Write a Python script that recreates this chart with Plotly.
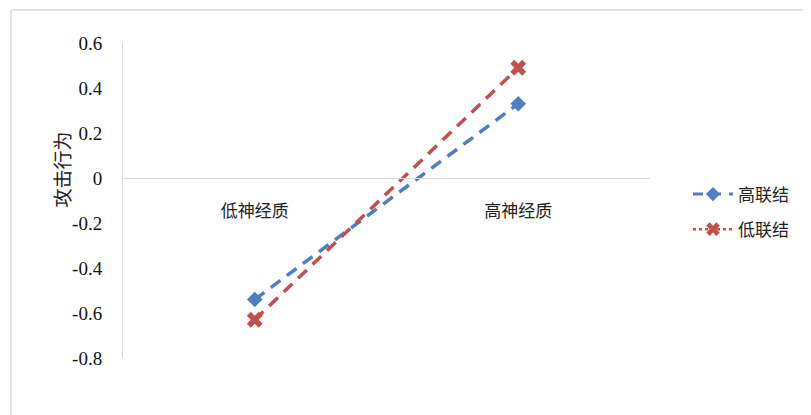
import plotly.graph_objects as go

categories = ["低神经质", "高神经质"]
high_link = [-0.54, 0.33]
low_link = [-0.63, 0.49]
series_names = ["高联结", "低联结"]
y_ticks = [-0.8, -0.6, -0.4, -0.2, 0, 0.2, 0.4, 0.6]
y_tick_labels = ["-0.8", "-0.6", "-0.4", "-0.2", "0", "0.2", "0.4", "0.6"]

blue = "#4F7FC0"
red = "#C0504D"
cjk = "Noto Sans CJK SC"
serif = "Liberation Serif"

# page offset (body margin) of 8px
OX, OY = 8, 8
L, T, R, B = 123 - OX, 43 - OY, 650 - OX, 358 - OY
W, H = 811, 415
PW, PH = R - L, B - T

def px(x):
    return (x - OX - L) / PW

def py(y):
    return 1 - (y - OY - T) / PH

fig = go.Figure()
fig.add_trace(go.Scatter(
    x=categories, y=high_link, mode="lines+markers", name=series_names[0],
    line=dict(color=blue, width=3.5, dash="12px,8px"),
    marker=dict(symbol="diamond", size=12, color=blue),
    showlegend=False))
fig.add_trace(go.Scatter(
    x=categories, y=low_link, mode="lines+markers", name=series_names[1],
    line=dict(color=red, width=3.5, dash="12px,8px"),
    marker=dict(symbol="x", size=14, color=red),
    showlegend=False))
# legend entries
fig.add_trace(go.Scatter(
    x=[None], y=[None], mode="lines+markers", name=series_names[0],
    line=dict(color=blue, width=3, dash="10px,8px"),
    marker=dict(symbol="diamond", size=11, color=blue),
    legendgroup="a"))
fig.add_trace(go.Scatter(
    x=[None], y=[None], mode="lines+markers", name=series_names[1],
    line=dict(color=red, width=2.5, dash="dot"),
    marker=dict(symbol="x", size=12, color=red),
    legendgroup="b"))

fig.update_layout(
    width=W, height=H,
    margin=dict(l=L, r=W - R, t=T, b=H - B),
    paper_bgcolor="white", plot_bgcolor="white",
    showlegend=True,
    legend=dict(x=px(688), y=py(212), xanchor="left", yanchor="middle",
                font=dict(family=cjk, size=17, color="#222"),
                tracegroupgap=10, traceorder="grouped", itemwidth=40),
    xaxis=dict(type="category", range=[-0.5, 1.5], showgrid=False,
               showline=True, linecolor="#d9d9d9", linewidth=1,
               anchor="free", position=0.8 / 1.4, ticks="",
               ticklabelstandoff=18,
               tickfont=dict(family=cjk, size=17, color="#222"),
               zeroline=False),
    yaxis=dict(range=[-0.8, 0.6], tickvals=y_ticks, ticktext=y_tick_labels,
               showgrid=False, zeroline=False, showline=True,
               linecolor="#d9d9d9", linewidth=1, ticks="",
               ticklabelstandoff=16,
               tickfont=dict(family=serif, size=19, color="#111")),
    annotations=[dict(text="攻击行为", xref="paper", yref="paper",
                      x=px(45), y=py(170),
                      textangle=-90, showarrow=False,
                      font=dict(family=cjk, size=19, color="#222"))],
    shapes=[
        dict(type="line", xref="paper", yref="paper",
             x0=px(11), x1=px(11), y0=py(10), y1=py(430),
             line=dict(color="#d9d9d9", width=1.5)),
        dict(type="line", xref="paper", yref="paper",
             x0=px(11), x1=px(830), y0=py(10), y1=py(10),
             line=dict(color="#d9d9d9", width=1.5)),
    ],
)

fig.write_html("out.html")
